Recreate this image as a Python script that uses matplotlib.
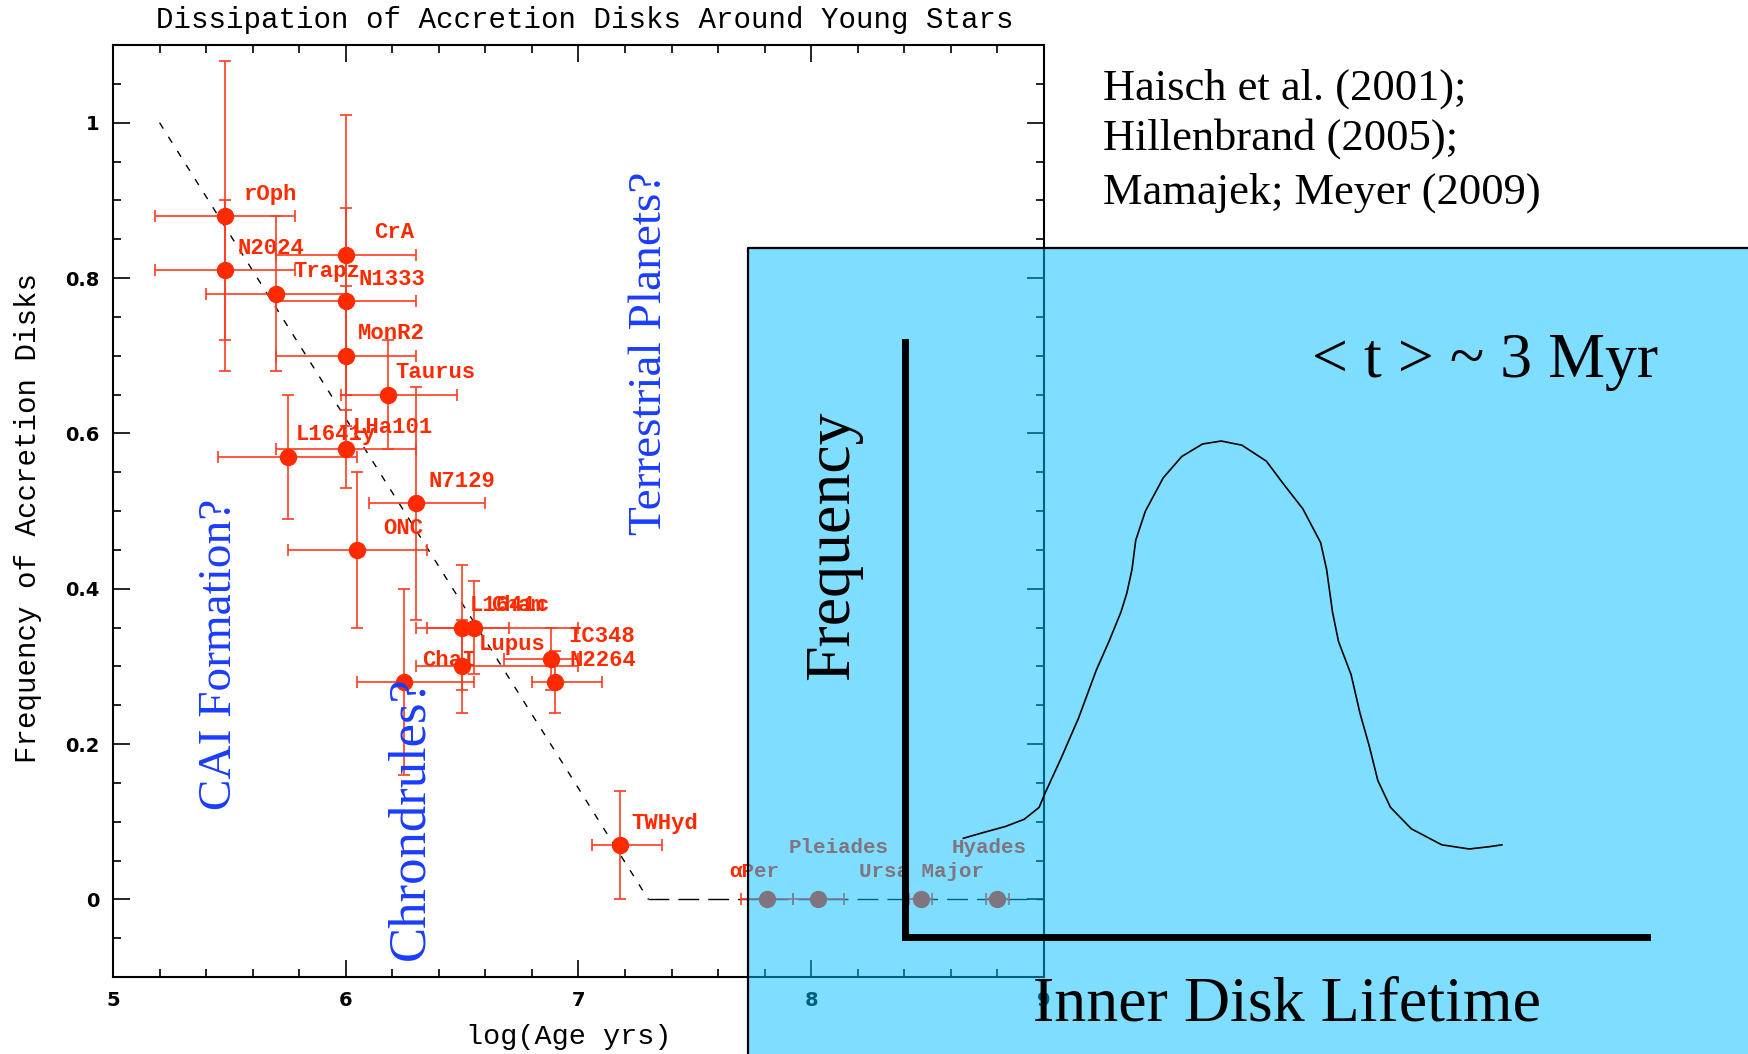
import matplotlib
matplotlib.use("Agg")
import matplotlib.pyplot as plt
from matplotlib.patches import Rectangle
from matplotlib.lines import Line2D
from matplotlib.ticker import MultipleLocator, FuncFormatter

# ---- young clusters: log(age / yr), accretion-disk frequency, errors ----
clusters = ["rOph", "N2024", "Trapz", "CrA", "N1333", "MonR2", "Taurus",
            "L1641y", "LHa101", "N7129", "ONC", "L1641c", "Cham", "Lupus",
            "ChaI", "IC348", "N2264", "TWHyd"]
log_age = [5.48, 5.48, 5.70, 6.00, 6.00, 6.00, 6.18, 5.75, 6.00, 6.30,
           6.05, 6.50, 6.55, 6.50, 6.25, 6.88, 6.90, 7.18]
disk_frac = [0.88, 0.81, 0.78, 0.83, 0.77, 0.70, 0.65, 0.57, 0.58, 0.51,
             0.45, 0.35, 0.35, 0.30, 0.28, 0.31, 0.28, 0.07]
age_err_lo = [0.30, 0.30, 0.30, 0.30, 0.30, 0.30, 0.20, 0.30, 0.30, 0.20,
              0.30, 0.20, 0.20, 0.20, 0.20, 0.20, 0.10, 0.12]
age_err_hi = [0.30, 0.30, 0.30, 0.30, 0.30, 0.30, 0.30, 0.30, 0.30, 0.30,
              0.30, 0.20, 0.45, 0.50, 0.30, 0.12, 0.20, 0.18]
frac_err_lo = [0.20, 0.09, 0.10, 0.18, 0.12, 0.09, 0.07, 0.08, 0.05, 0.15,
               0.10, 0.08, 0.06, 0.06, 0.12, 0.04, 0.04, 0.07]
frac_err_hi = [0.20, 0.09, 0.10, 0.18, 0.12, 0.09, 0.07, 0.08, 0.05, 0.15,
               0.10, 0.08, 0.06, 0.06, 0.12, 0.04, 0.04, 0.07]

# ---- older clusters (no accretion disks left) ----
old_clusters = ["\u03b1Per", "Pleiades", "Ursa Major", "Hyades"]
old_log_age = [7.81, 8.03, 8.47, 8.80]
old_frac = [0.0, 0.0, 0.0, 0.0]
old_age_err = [0.11, 0.11, 0.05, 0.05]

# ---- simple dissipation model ----
model_age = [5.2, 7.3, 9.0]
model_frac = [1.0, 0.0, 0.0]

# ---- schematic lifetime distribution (arbitrary units) ----
life_t = [0.079, 0.104, 0.136, 0.161, 0.181, 0.189, 0.210, 0.234, 0.258,
          0.275, 0.291, 0.299, 0.306, 0.311, 0.324, 0.348, 0.373, 0.401,
          0.426, 0.454, 0.487, 0.511, 0.536, 0.560, 0.568, 0.576, 0.584,
          0.601, 0.613, 0.625, 0.637, 0.654, 0.682, 0.723, 0.760, 0.788,
          0.804]
life_freq = [0.166, 0.175, 0.186, 0.198, 0.218, 0.242, 0.299, 0.368, 0.449,
             0.497, 0.546, 0.578, 0.618, 0.667, 0.716, 0.772, 0.808, 0.829,
             0.834, 0.827, 0.800, 0.760, 0.720, 0.663, 0.618, 0.546, 0.497,
             0.441, 0.376, 0.323, 0.263, 0.218, 0.182, 0.155, 0.148, 0.152,
             0.155]

y_ticks = [0.0, 0.2, 0.4, 0.6, 0.8, 1.0]
x_ticks = [5, 6, 7, 8, 9]

RED = "#ff2a00"
ERR_RED = "#ff3c1e"
BLUE = "#1a3cff"
MONO = "Liberation Mono"
SERIF = "Liberation Serif"

W, H = 1749, 1054
fig = plt.figure(figsize=(W / 100, H / 100), dpi=100)
fig.patch.set_facecolor("white")

ax = fig.add_axes([113 / W, 1 - 977 / H, 931 / W, 932 / H])
ax.set_xlim(5, 9)
ax.set_ylim(-0.1, 1.1)
for s in ax.spines.values():
    s.set_linewidth(1.5)
ax.set_xticks(x_ticks)
ax.set_yticks(y_ticks)
ax.xaxis.set_minor_locator(MultipleLocator(0.2))
ax.yaxis.set_minor_locator(MultipleLocator(0.05))
ax.yaxis.set_major_formatter(FuncFormatter(lambda v, p: "%g" % v))
ax.tick_params(which="both", direction="in", top=True, right=True,
               width=1.2, color="black")
ax.tick_params(which="major", length=12, pad=10)
ax.tick_params(which="minor", length=6)
for lab in ax.get_xticklabels() + ax.get_yticklabels():
    lab.set_fontfamily("DejaVu Sans")
    lab.set_fontweight("bold")
    lab.set_fontsize(14)

# dissipation model: steep decline, then flat at zero
ax.plot(model_age[:2], model_frac[:2], color="black", lw=1.0,
        ls=(0, (5, 7)), zorder=2)
ax.plot(model_age[1:], model_frac[1:], color="black", lw=1.0,
        ls=(0, (15, 6.5)), zorder=2)

ax.errorbar(log_age, disk_frac,
            xerr=[age_err_lo, age_err_hi], yerr=[frac_err_lo, frac_err_hi],
            fmt="o", ms=11.5, color=RED, mfc=RED, mec=RED,
            ecolor=ERR_RED, elinewidth=1.2, capsize=4, capthick=1.2, zorder=3)
ax.errorbar(old_log_age, old_frac, xerr=old_age_err,
            fmt="o", ms=11.5, color=RED, mfc=RED, mec=RED,
            ecolor=ERR_RED, elinewidth=1.2, capsize=4, capthick=1.2, zorder=3)

# cluster names, offset up and to the right of each point
label_dx = [0.084, 0.054, 0.075, 0.121, 0.054, 0.050, 0.032, 0.036, 0.032,
            0.055, 0.109, 0.034, 0.074, 0.070, 0.080, 0.076, 0.063, 0.049]
for name, x, y, dx in zip(clusters, log_age, disk_frac, label_dx):
    ax.text(x + dx, y + 0.021, name, color=RED, family=MONO,
            fontweight="bold", fontsize=16, ha="left", va="baseline",
            zorder=4)
old_dx = [-0.164, -0.128, -0.266, -0.197]
old_dy = [0.029, 0.060, 0.029, 0.060]
for name, x, y, dx, dy in zip(old_clusters, old_log_age, old_frac,
                              old_dx, old_dy):
    ax.text(x + dx, y + dy, name, color=RED, family=MONO,
            fontweight="bold", fontsize=15, ha="left", va="baseline",
            zorder=4)

ax.text(0.5064, 1.0268, "Dissipation of Accretion Disks Around Young Stars",
        transform=ax.transAxes, family=MONO, fontsize=21,
        ha="center", va="center")
ax.text(-0.0913, 0.492, "Frequency of Accretion Disks",
        transform=ax.transAxes, family=MONO, fontsize=21,
        rotation=90, ha="center", va="center")
ax.text(0.4898, -0.0644, "log(Age yrs)", transform=ax.transAxes,
        family=MONO, fontsize=20.5, ha="center", va="center")

# formation epochs
ax.text(5.46, 0.316, "CAI Formation?", color=BLUE, family=SERIF,
        fontsize=34, rotation=90, ha="center", va="center", zorder=5)
ax.text(6.276, 0.104, "Chrondrules?", color=BLUE, family=SERIF,
        fontsize=38, rotation=90, ha="center", va="center", zorder=5)
ax.text(7.307, 0.7026, "Terrestrial Planets?", color=BLUE, family=SERIF,
        fontsize=34, rotation=90, ha="center", va="center", zorder=5)

# references
for txt, yb in zip(["Haisch et al. (2001);", "Hillenbrand (2005);",
                    "Mamajek; Meyer (2009)"], [100, 150, 203.3]):
    fig.text(1103 / W, 1 - yb / H, txt, family=SERIF, fontsize=32,
             ha="left", va="baseline")

# translucent panel with the lifetime distribution
x0, y0 = 747.7 / W, 0.0
ph = (H - 248.3) / H
fig.add_artist(Rectangle((x0, y0), 1 - x0, ph, transform=fig.transFigure,
                         facecolor=(0.0, 0.75, 1.0), alpha=0.5,
                         edgecolor="none", zorder=5))
fig.add_artist(Line2D([x0, x0, 1.0], [0.0, ph, ph], transform=fig.transFigure,
                      color="black", lw=1.6, zorder=6))

ins = fig.add_axes([904.7 / W, 1 - 937 / H, 742.8 / W, 594.7 / H], zorder=7)
ins.patch.set_alpha(0)
ins.set_xlim(0, 1)
ins.set_ylim(0, 1)
ins.spines["top"].set_visible(False)
ins.spines["right"].set_visible(False)
ins.spines["left"].set_linewidth(5)
ins.spines["bottom"].set_linewidth(5)
ins.spines["left"].set_capstyle("projecting")
ins.spines["bottom"].set_capstyle("projecting")
ins.set_xticks([])
ins.set_yticks([])
ins.plot(life_t, life_freq, color="black", lw=1.2)
ins.text(-0.0965, 0.659, "Frequency", transform=ins.transAxes, family=SERIF,
         fontsize=46, rotation=90, ha="center", va="center")
ins.text(0.5477, 0.9417, "< t > ~ 3 Myr", transform=ins.transAxes,
         family=SERIF, fontsize=46, ha="left", va="baseline")
ins.text(0.1727, -0.1412, "Inner Disk Lifetime", transform=ins.transAxes,
         family=SERIF, fontsize=46, ha="left", va="baseline")

fig.savefig("out.png", dpi=100)
